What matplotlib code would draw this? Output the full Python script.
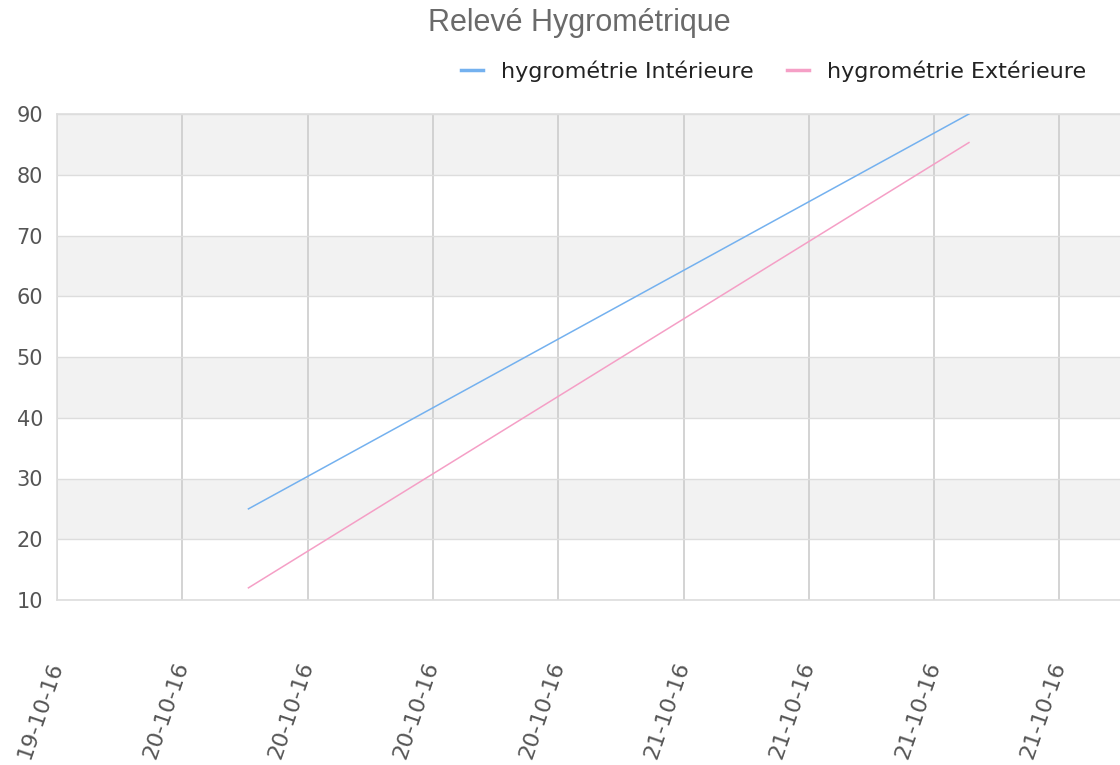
import matplotlib
matplotlib.use("Agg")
import matplotlib.pyplot as plt
import matplotlib.dates as mdates
from datetime import datetime

# Data
times = [datetime(2016, 10, 20, 3, 10), datetime(2016, 10, 21, 13, 40)]
hygro_int = [25, 90]
hygro_ext = [12, 85.3]
labels = ["hygrométrie Intérieure", "hygrométrie Extérieure"]
colors = ["#74b1ef", "#f59fc6"]

x_start = datetime(2016, 10, 19, 18, 0)
x_end = datetime(2016, 10, 21, 20, 54)

fig = plt.figure(figsize=(11.2, 7.65), dpi=100)
ax = fig.add_axes([57 / 1120, 165 / 765, 1 - 57 / 1120, 486 / 765])

# alternating horizontal bands
for lo in range(20, 90, 20):
    ax.axhspan(lo, lo + 10, color="#f2f2f2", zorder=0, lw=0)

line1, = ax.plot(times, hygro_int, color=colors[0], lw=1.1, zorder=3)
line2, = ax.plot(times, hygro_ext, color=colors[1], lw=1.1, zorder=3)

ax.set_xlim(x_start, x_end)
ax.set_ylim(10, 90)
ax.set_yticks(range(10, 91, 10))
ax.xaxis.set_major_locator(mdates.HourLocator(byhour=[0, 6, 12, 18]))
ax.xaxis.set_major_formatter(mdates.DateFormatter("%d-%m-%y"))

ax.grid(axis="y", color="#dddddd", lw=1, zorder=1)
ax.grid(axis="x", color="#cccccc", lw=1.2, zorder=1)
ax.set_axisbelow(True)

for side in ["top", "left", "bottom"]:
    ax.spines[side].set_color("#dddddd")
    ax.spines[side].set_linewidth(1.2)
ax.spines["right"].set_visible(False)

ax.tick_params(axis="y", length=0, pad=10, labelsize=15, labelcolor="#555555")
ax.tick_params(axis="x", length=0, pad=45, labelsize=16, labelcolor="#555555")
for lab in ax.get_xticklabels():
    lab.set_rotation(71)
    lab.set_ha("right")
    lab.set_va("center")
    lab.set_rotation_mode("anchor")

fig.text(579 / 1120, 1 - 23 / 765, "Relevé Hygrométrique", ha="center", va="center",
         fontsize=22, color="#6a6a6a", family="Liberation Sans")

h1 = plt.Line2D([], [], color=colors[0], lw=2.5)
h2 = plt.Line2D([], [], color=colors[1], lw=2.5)
fig.legend([h1, h2], labels, ncol=2, loc="center right",
           bbox_to_anchor=(1106 / 1120, 1 - 71 / 765), frameon=False,
           fontsize=16, handlelength=1.0, handletextpad=0.8, columnspacing=1.5,
           labelcolor="#222222")

fig.savefig("out.png", dpi=100)
